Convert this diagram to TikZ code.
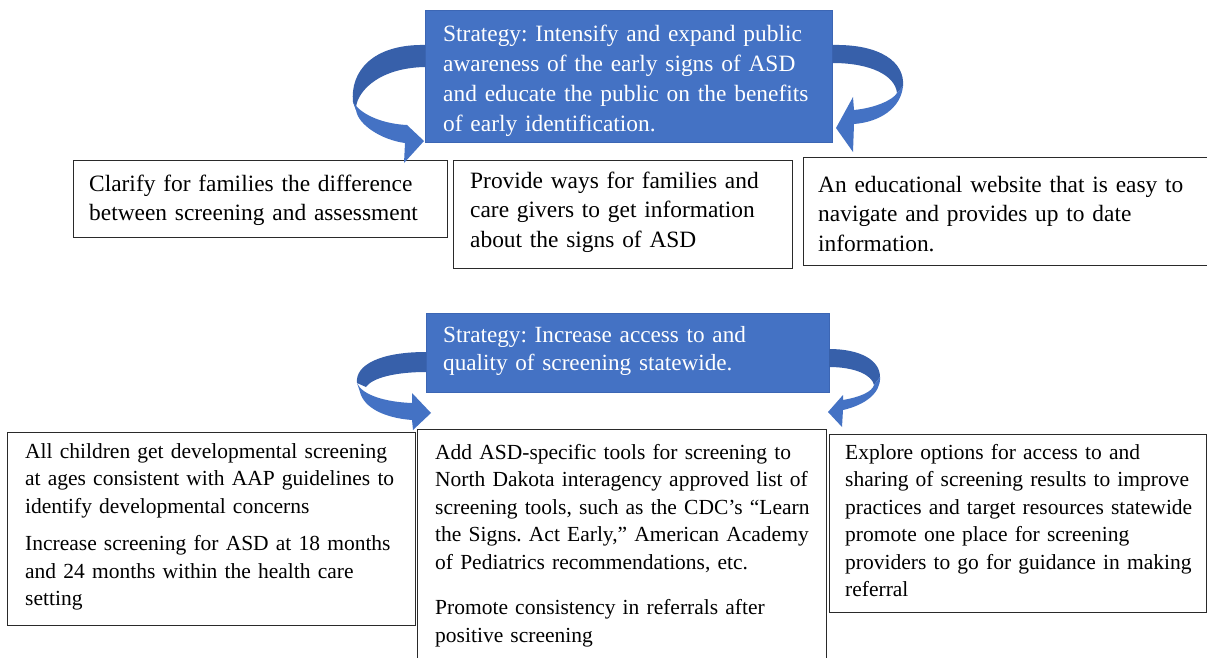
\documentclass[tikz,border=0pt]{standalone}
\usepackage{fontspec}
\setmainfont{Liberation Serif}
\frenchspacing
\definecolor{stratblue}{HTML}{4472C4}
\definecolor{stratedge}{HTML}{3C66B4}
\definecolor{arrowdark}{HTML}{3760AA}
\definecolor{boxline}{HTML}{2A2A2A}
\begin{document}
\begin{tikzpicture}[x=1pt,y=-1pt,
  strat/.style={fill=stratblue,draw=stratedge,line width=0.6pt,anchor=north west,inner sep=0pt},
  itembox/.style={draw=boxline,line width=1.3pt,anchor=north west,inner sep=0pt},
  toptxt/.style={anchor=base west,inner sep=0pt,align=left,text width=#1,font=\fontsize{23.4}{29.5}\selectfont},
  bluetxt/.style={anchor=base west,inner sep=0pt,align=left,text width=#1,text=white,font=\fontsize{23.4}{30}\selectfont},
  bottxt/.style={anchor=base west,inner sep=0pt,align=left,text width=#1,font=\fontsize{21.5}{27.5}\selectfont},
  arrfront/.style={fill=stratblue},
  arrback/.style={fill=arrowdark}]
\clip (0,0) rectangle (1207,658);
\fill[white] (0,0) rectangle (1207,658);

% ---------- top strategy ----------
\node[strat,minimum width=407pt,minimum height=132pt] (S1) at (425,10) {};
\node[bluetxt=400pt] (S1t) at (443,42) {Strategy: Intensify and expand public\\awareness of the early signs of ASD\\and educate the public on the benefits\\of early identification.};

\node[itembox,minimum width=374pt,minimum height=77pt] (A) at (73,160) {};
\node[toptxt=360pt] (At) at (89,191) {Clarify for families the difference\\between screening and assessment};
\node[itembox,minimum width=339pt,minimum height=108pt] (B) at (453,160) {};
\node[toptxt=330pt] (Bt) at (470,188) {Provide ways for families and\\care givers to get information\\about the signs of ASD};
\node[itembox,minimum width=404pt,minimum height=108pt] (C) at (803,157) {};
\node[toptxt=390pt] (Ct) at (818,192) {An educational website that is easy to\\navigate and provides up to date\\information.};

% top-left curved arrow
\path[arrback] (S1.north west |- 0,45) .. controls (372,44) and (350,72) .. (353,102) -- (356,110)
  .. controls (355,95) and (375,68) .. (S1.north west |- 0,67) -- cycle;
\path[arrfront] (353,102) .. controls (362,116) and (385,124) .. (407,125) -- (424,141) -- (404,163)
  -- (405,143) .. controls (382,140) and (358,125) .. (356,110) -- cycle;
% top-right curved arrow
\path[arrback] (S1.north east |- 0,45) .. controls (880,44) and (905,62) .. (903,86) -- (897,93)
  .. controls (895,75) and (870,63) .. (S1.north east |- 0,63) -- cycle;
\path[arrfront] (903,86) .. controls (901,108) and (880,122) .. (854,124) -- (853,152) -- (836,128)
  -- (853,97) -- (854,110) .. controls (875,108) and (893,100) .. (897,93) -- cycle;

% ---------- bottom strategy ----------
\node[strat,minimum width=403pt,minimum height=79pt] (S2) at (426,313) {};
\node[bluetxt=390pt,font=\fontsize{23.2}{28}\selectfont] (S2t) at (443,342) {Strategy: Increase access to and\\quality of screening statewide.};

\node[itembox,minimum width=408pt,minimum height=193pt] (D) at (7,432) {};
\node[bottxt=395pt] (Dt) at (25,458) {All children get developmental screening\\at ages consistent with AAP guidelines to\\identify developmental concerns\\[10pt]Increase screening for ASD at 18 months\\and 24 months within the health care\\setting};
\node[itembox,minimum width=409pt,minimum height=260pt] (E) at (417,429) {};
\node[bottxt=395pt] (Et) at (435,459) {Add ASD-specific tools for screening to\\North Dakota interagency approved list of\\screening tools, such as the CDC’s “Learn\\the Signs. Act Early,” American Academy\\of Pediatrics recommendations, etc.\\[18pt]Promote consistency in referrals after\\positive screening};
\node[itembox,minimum width=377pt,minimum height=178pt] (F) at (829,434) {};
\node[bottxt=370pt] (Ft) at (845,459) {Explore options for access to and\\sharing of screening results to improve\\practices and target resources statewide\\promote one place for screening\\providers to go for guidance in making\\referral};

% bottom-left curved arrow
\path[arrback] (426,352) .. controls (380,352) and (355,365) .. (357,383) -- (366,387)
  .. controls (372,378) and (395,372) .. (426,372) -- cycle;
\path[arrfront] (357,383) .. controls (362,395) and (385,402) .. (412,403) -- (412,393) -- (431,413)
  -- (413,430) -- (412,420) .. controls (385,418) and (364,408) .. (360,392) -- cycle;
% bottom-right curved arrow
\path[arrback] (829,349) .. controls (860,349) and (880,360) .. (880,377) -- (874,385)
  .. controls (872,375) and (855,367) .. (829,367) -- cycle;
\path[arrfront] (880,377) .. controls (881,393) and (865,405) .. (843,410) -- (842,427) -- (828,412)
  -- (843,395) -- (843,400) .. controls (860,397) and (872,392) .. (874,385) -- cycle;
\end{tikzpicture}
\end{document}
